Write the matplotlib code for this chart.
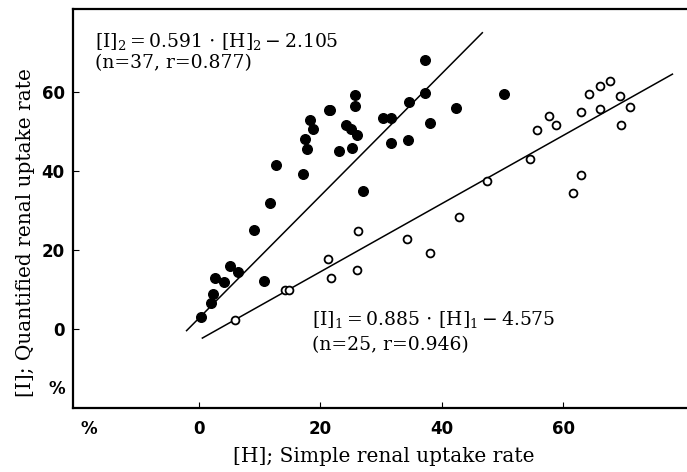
import matplotlib
matplotlib.use('Agg')
from matplotlib import pyplot as plt
import numpy as np

# filled circles: group 2
h2 = [0.3, 2.1, 2.4, 2.6, 4.2, 5.1, 6.5, 10.8, 9.1, 11.8, 12.7, 17.2, 17.5, 17.8,
      18.3, 18.8, 21.4, 23.1, 24.2, 25.0, 26.0, 25.3, 25.7, 25.8, 27.0, 30.4,
      31.7, 31.7, 34.5, 34.6, 37.3, 37.3, 38.1, 42.3, 50.3, 21.6]
i2 = [3.0, 6.5, 8.7, 12.9, 11.8, 15.9, 14.3, 12.0, 25.0, 31.8, 41.4, 39.1, 48.1, 45.5,
      53.0, 50.6, 55.5, 45.1, 51.6, 50.7, 49.2, 45.8, 56.4, 59.2, 34.9, 53.4,
      53.4, 47.1, 47.9, 57.4, 59.7, 68.0, 52.2, 56.0, 59.4, 55.3]

# open circles: group 1
h1 = [5.9, 14.2, 14.9, 21.3, 21.7, 26.0, 26.3, 34.3, 38.1, 42.9, 47.4, 54.6, 55.7,
      57.7, 58.8, 61.7, 62.9, 62.9, 64.3, 66.0, 66.1, 67.8, 69.4, 69.5, 71.0]
i1 = [2.3, 9.8, 9.8, 17.7, 12.9, 14.9, 24.8, 22.6, 19.2, 28.3, 37.5, 42.9, 50.4,
      54.0, 51.7, 34.5, 38.9, 55.0, 59.4, 55.7, 61.5, 62.8, 59.0, 51.7, 56.1]

# regression lines as drawn (slope, intercept, x range)
line2 = (1.55, 2.6, -2.0, 46.7)
line1 = (0.864, -2.9, 0.6, 78.0)

eq2 = ['$[\\mathrm{I}]_2 = 0.591\\,\\cdot\\,[\\mathrm{H}]_2 - 2.105$', '(n=37, r=0.877)']
eq1 = ['$[\\mathrm{I}]_1 = 0.885\\,\\cdot\\,[\\mathrm{H}]_1 - 4.575$', '(n=25, r=0.946)']

plt.rcParams['mathtext.fontset'] = 'dejavuserif'
serif = 'DejaVu Serif'

fig = plt.figure(figsize=(6.87, 4.72), dpi=100)
ax = fig.add_axes([73 / 687, 1 - 408 / 472, 1 - 73 / 687, 399 / 472])

for slope, icpt, x0, x1 in (line2, line1):
    xs = np.array([x0, x1])
    ax.plot(xs, slope * xs + icpt, color='black', lw=1.1)

ax.scatter(h2, i2, s=48, color='black', zorder=3)
ax.scatter(h1, i1, s=32, facecolor='white', edgecolor='black', linewidth=1.3, zorder=3)

ax.set_xlim(-20.7, 80.4)
ax.set_ylim(-20.1, 81)

ax.set_xticks([-18.1, 0, 20, 40, 60])
ax.set_xticklabels(['%', '0', '20', '40', '60'])
ax.set_yticks([-14.9, 0, 20, 40, 60])
ax.set_yticklabels(['%', '0', '20', '40', '60'])
ax.tick_params(direction='in', length=4, width=0.8)
for lab in ax.get_xticklabels() + ax.get_yticklabels():
    lab.set_fontweight('bold')
    lab.set_fontsize(12)
    lab.set_family('DejaVu Sans')
ax.xaxis.get_major_ticks()[0].tick1line.set_visible(False)
ax.yaxis.get_major_ticks()[0].tick1line.set_visible(False)
ax.tick_params(axis='y', pad=6)
ax.tick_params(axis='x', pad=9)

ax.spines['right'].set_visible(False)
for s in ('left', 'bottom', 'top'):
    ax.spines[s].set_linewidth(1.6)

ax.set_xlabel('[H]; Simple renal uptake rate', family=serif, fontsize=14.5)
ax.set_ylabel('[I]; Quantified renal uptake rate', family=serif, fontsize=14.5)
ax.xaxis.set_label_coords(0.506, -0.098)
ax.yaxis.set_label_coords(-0.062, 0.44)

ax.text(-17.1, 72.8, eq2[0], family=serif, fontsize=13.5, va='center')
ax.text(-17.1, 67.4, eq2[1], family=serif, fontsize=13.5, va='center')
ax.text(18.6, 2.3, eq1[0], family=serif, fontsize=13.5, va='center')
ax.text(18.6, -4.2, eq1[1], family=serif, fontsize=13.5, va='center')

fig.savefig('out.png', dpi=100)
